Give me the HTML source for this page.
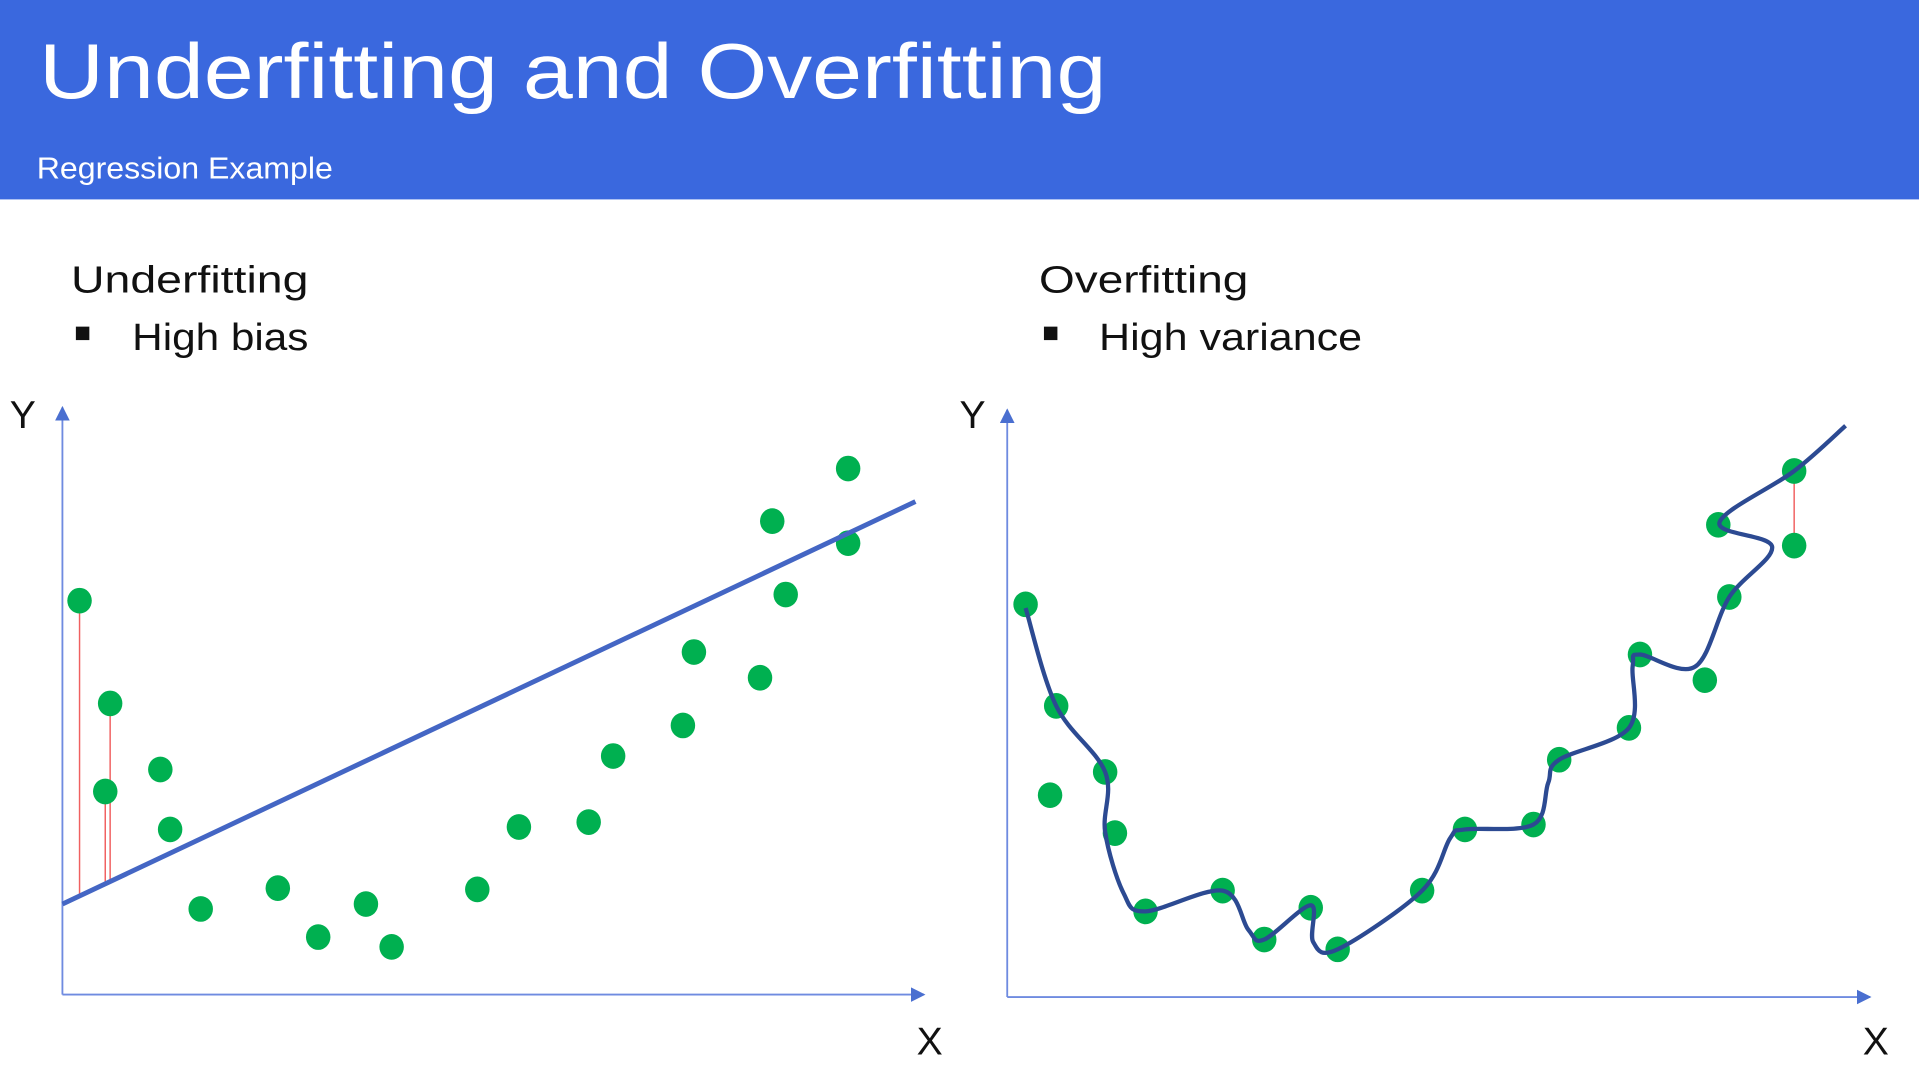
<!DOCTYPE html>
<html><head><meta charset="utf-8"><style>
html,body{margin:0;padding:0;background:#fff;overflow:hidden}
svg{display:block}
text{font-family:"Liberation Sans",sans-serif}
</style></head><body>
<svg id="s" width="1919" height="1079" viewBox="0 0 1568 882" preserveAspectRatio="none" xmlns="http://www.w3.org/2000/svg">
<defs>
<marker id="ar" viewBox="0 0 10 10" refX="9" refY="5" markerWidth="8" markerHeight="8" orient="auto"><path d="M0,0L10,5L0,10z" fill="#4a6fd0"/></marker>
</defs>
<rect x="0" y="0" width="1568" height="163" fill="#3a68de"/>
<text x="32" y="80" font-size="64" fill="#fff" textLength="872" lengthAdjust="spacingAndGlyphs">Underfitting and Overfitting</text>
<text x="30" y="146" font-size="25" fill="#fff" textLength="242" lengthAdjust="spacingAndGlyphs">Regression Example</text>
<text x="58" y="239" font-size="31" fill="#111" textLength="194" lengthAdjust="spacingAndGlyphs">Underfitting</text>
<rect x="62" y="267" width="11" height="11" fill="#111"/>
<text x="108" y="286" font-size="31" fill="#111" textLength="144" lengthAdjust="spacingAndGlyphs">High bias</text>
<text x="849" y="239" font-size="31" fill="#111" textLength="171" lengthAdjust="spacingAndGlyphs">Overfitting</text>
<rect x="853" y="267" width="11" height="11" fill="#111"/>
<text x="898" y="286" font-size="31" fill="#111" textLength="215" lengthAdjust="spacingAndGlyphs">High variance</text>
<g id="left"></g>
<g id="right"></g>
</svg>
<script>
const leftX=[14,39,35,80,88,113,176,209,248,269,339,373,430,450,507,516,570,580,591,642,642];
const leftY=[322,238,166,184,135,70,87,47,74,39,86,137,141,195,220,280,259,387,327,430,369];
const fitIntercept=74, fitSlope=0.472, fitXMax=697;
const leftResiduals=[0,2,1];
const rightX=[15,40,35,80,88,113,176,210,248,270,339,374,430,451,508,517,570,581,590,643,643];
const rightY=[321,238,165,184,134,70,87,47,73,39,87,137,141,194,220,280,259,386,327,430,369];
const curveX=[15,40,80,80,95,113,176,197,210,248,250,270,339,362,374,430,442,451,508,511,517,562,590,625,582,643,685];
const curveY=[318,238,184,135,85,70,87,55,47,75,45,39,87,130,137,141,175,194,220,270,280,270,327,368,388,430,467];
const rightResiduals=[[19,20]];
const NS="http://www.w3.org/2000/svg";
function mk(tag,attrs,parent){const e=document.createElementNS(NS,tag);for(const k in attrs)e.setAttribute(k,attrs[k]);parent.appendChild(e);return e;}
function chart(g,ox,oy,xEnd,yTop,labX){
  const sx=v=>ox+v, sy=v=>oy-v;
  const ya=mk('line',{x1:ox,y1:oy,x2:ox,y2:yTop,stroke:'#6f8be0','stroke-width':1.5,'marker-end':'url(#ar)'},g);
  
  
  const xa=mk('line',{x1:ox,y1:oy,x2:xEnd,y2:oy,stroke:'#6f8be0','stroke-width':1.5,'marker-end':'url(#ar)'},g);
  
  
  const yl=mk('text',{x:labX,y:350,'font-size':32,fill:'#111'},g);yl.textContent='Y';
  
  
  const xl=mk('text',{x:xEnd-6,y:862,'font-size':32,fill:'#111'},g);xl.textContent='X';
  
  
  return {sx,sy};
}
function dots(g,xs,ys,a){
  for(let i=0;i<xs.length;i++){
    const c=mk('ellipse',{cx:a.sx(xs[i]),cy:a.sy(ys[i]),rx:10,ry:10.5,fill:'#00b050'},g);
    
    
  }
}
const gl=document.getElementById('left');
const A=chart(gl,51,813,755,333,8);
leftResiduals.forEach(i=>{
  const r=mk('line',{x1:A.sx(leftX[i]),y1:A.sy(leftY[i]),x2:A.sx(leftX[i]),y2:A.sy(fitIntercept+fitSlope*leftX[i]),stroke:'#f06060','stroke-width':1.2},gl);
  
  
});
dots(gl,leftX,leftY,A);
const fl=mk('line',{x1:A.sx(0),y1:A.sy(fitIntercept),x2:A.sx(fitXMax),y2:A.sy(fitIntercept+fitSlope*fitXMax),stroke:'#4466c4','stroke-width':4},gl);


const gr=document.getElementById('right');
const B=chart(gr,823,815,1528,335,784);
rightResiduals.forEach(p=>{
  const r=mk('line',{x1:B.sx(rightX[p[0]]),y1:B.sy(rightY[p[0]]),x2:B.sx(rightX[p[1]]),y2:B.sy(rightY[p[1]]),stroke:'#f06060','stroke-width':1.2},gr);
  
  
});
dots(gr,rightX,rightY,B);
const P=curveX.map((x,i)=>[B.sx(x),B.sy(curveY[i])]);
let d='M'+P[0][0]+','+P[0][1];
for(let i=0;i<P.length-1;i++){
  const p0=P[i-1]||P[i],p1=P[i],p2=P[i+1],p3=P[i+2]||P[i+1];
  const c1=[p1[0]+(p2[0]-p0[0])/6,p1[1]+(p2[1]-p0[1])/6];
  const c2=[p2[0]-(p3[0]-p1[0])/6,p2[1]-(p3[1]-p1[1])/6];
  d+=' C'+c1+' '+c2+' '+p2;
}
const cv=mk('path',{d:d,fill:'none',stroke:'#2c4a92','stroke-width':3.5,'stroke-linejoin':'round'},gr);


</script>
</body></html>
